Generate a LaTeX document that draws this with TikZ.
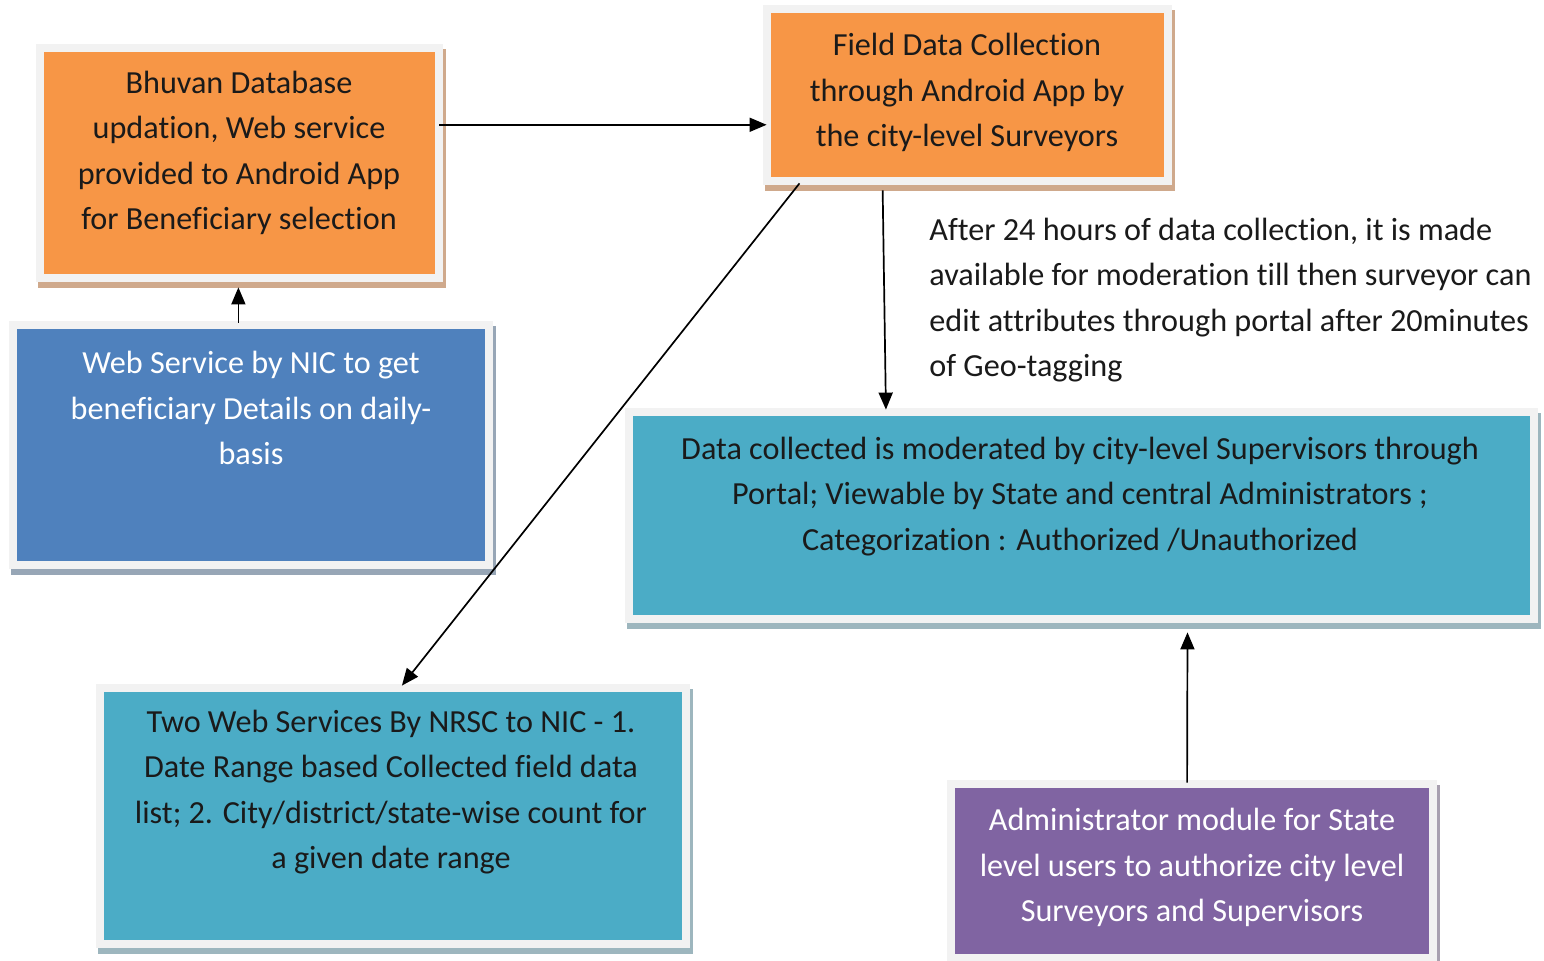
\documentclass[tikz,border=0pt]{standalone}
\usepackage{fontspec}
\setmainfont{Carlito}[Ligatures=NoCommon]
\usetikzlibrary{arrows.meta,calc}
\definecolor{orangeF}{HTML}{F79646}
\definecolor{orangeS}{HTML}{CFA98C}
\definecolor{blueF}{HTML}{4F81BD}
\definecolor{blueS}{HTML}{97A6B6}
\definecolor{tealF}{HTML}{4BACC6}
\definecolor{tealS}{HTML}{9DB6BE}
\definecolor{purpF}{HTML}{8064A2}
\definecolor{purpS}{HTML}{A8A0B0}
\definecolor{frameC}{HTML}{F2F2F2}
\definecolor{txtC}{HTML}{1A1A1A}
\newcommand\mkbox[7]{%
  \fill[#7] (#2+2,#3+5) rectangle (#4+3,#5+6);
  \node[frame, minimum width={(#4-#2)*0.5pt}, minimum height={(#5-#3)*0.5pt}] (#1) at ({(#2+#4)/2},{(#3+#5)/2}) {};
  \fill[#6] (#2+8,#3+8) rectangle (#4-8,#5-8);
}
\begin{document}
\begin{tikzpicture}[x=0.5pt,y=-0.5pt,
  frame/.style={rectangle, fill=frameC, inner sep=0pt, draw=none},
  txt/.style={align=center, font=\fontsize{16.1}{22.6}\selectfont, inner sep=0pt, text=txtC},
  wtxt/.style={txt, text=white},
  arr/.style={-{Triangle[length=8.5pt,width=7pt]}, line width=0.85pt, black}]
\useasboundingbox[fill=white] (0,0) rectangle (1544,961);

\mkbox{bhuvan}{36}{44}{443}{282}{orangeF}{orangeS}
\mkbox{field}{763}{5}{1172}{185}{orangeF}{orangeS}
\mkbox{web}{9}{321}{493}{569}{blueF}{blueS}
\mkbox{mod}{625}{408}{1538}{623}{tealF}{tealS}
\mkbox{two}{96}{684}{690}{948}{tealF}{tealS}
\mkbox{admin}{947}{780}{1437}{962}{purpF}{purpS}

\node[txt] (tbhuvan) at (239,153) {Bhuvan Database\\updation, Web service\\provided to Android App\\for Beneficiary selection};
\node[txt] (tfield) at (967,92.5) {Field Data Collection\\through Android App by\\the city-level Surveyors};
\node[wtxt] (tweb) at (251,408) {Web Service by NIC to get\\beneficiary Details on daily-\\basis};
\node[txt] (tmod) at (1080,496.5) {Data collected is moderated by city-level Supervisors through\\Portal; Viewable by State and central Administrators ;\\Categorization : Authorized /Unauthorized};
\node[txt] (ttwo) at (391,792) {Two Web Services By NRSC to NIC - 1.\\Date Range based Collected field data\\list; 2. City/district/state-wise count for\\a given date range};
\node[wtxt] (tadmin) at (1192,867.5) {Administrator module for State\\level users to authorize city level\\Surveyors and Supervisors};
\node[txt, align=left, anchor=west] (note) at (929,300) {After 24 hours of data collection, it is made\\available for moderation till then surveyor can\\edit attributes through portal after 20minutes\\of Geo-tagging};

\draw[arr] ($(bhuvan.north east)!0.34!(bhuvan.south east)+(-4,0)$) coordinate (a1) -- ($(a1 -| field.west)+(4,0)$);
\draw[arr] ($(web.north west)!0.474!(web.north east)+(0,2)$) coordinate (b1) -- ($(b1 |- bhuvan.south)+(0,5)$);
\draw[arr] ($(field.south west)!0.293!(field.south east)+(0,5)$) -- ($(mod.north west)!0.286!(mod.north east)+(0,2)$);
\draw[arr] ($(field.south west)!0.09!(field.south east)+(0,-2)$) -- ($(two.north west)!0.515!(two.north east)+(0,2)$);
\draw[arr] ($(admin.north west)!0.49!(admin.north east)+(0,3)$) -- ($(mod.south west)!0.616!(mod.south east)+(0,9)$);
\end{tikzpicture}
\end{document}
